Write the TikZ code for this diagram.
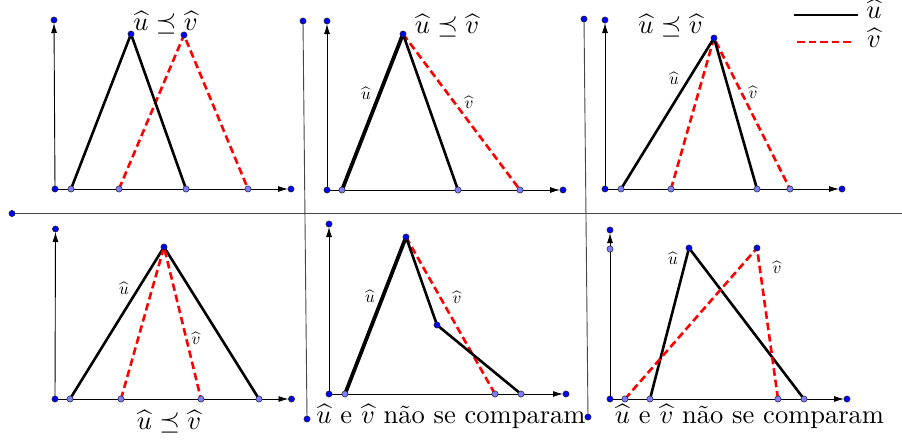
\documentclass[tikz,border=0pt]{standalone}
\usetikzlibrary{arrows.meta}
\definecolor{dotdark}{RGB}{0,0,255}
\definecolor{dotlight}{RGB}{125,125,255}
\definecolor{sepgray}{RGB}{70,70,70}
\begin{document}
\begin{tikzpicture}[x=1pt,y=-1pt,
  dot/.style={circle, draw=black!85, fill=dotdark, inner sep=0pt, minimum size=6.2pt, line width=0.5pt},
  ldot/.style={dot, fill=dotlight},
  ufn/.style={line width=2.6pt, black, line join=round},
  ufnthick/.style={line width=3.8pt, black},
  vfn/.style={line width=2.6pt, red, dash pattern=on 7.5pt off 4pt},
  axisline/.style={line width=0.9pt, black, -{Latex[length=10pt,width=6pt]}, shorten >=3pt},
  sepline/.style={line width=0.9pt, sepgray},
  big/.style={scale=2.65, transform shape, inner sep=0pt},
  small/.style={scale=1.7, transform shape, inner sep=0pt}]
\useasboundingbox (0,0) rectangle (902,442);

% ---------- separators ----------
\coordinate (Sh1) at (12,213.5);
\coordinate (Sh2) at (902,213.5);
\coordinate (Sa1) at (303,21);
\coordinate (Sa2) at (307,419);
\coordinate (Sb1) at (584,19);
\coordinate (Sb2) at (588,417);
\draw[sepline] (Sh1) -- (Sh2);
\draw[sepline] (Sa1) -- (Sa2);
\draw[sepline] (Sb1) -- (Sb2);

% ---------- panel A (top left) ----------
\coordinate (Ao) at (55,189);
\coordinate (Ay) at (54,20);
\coordinate (Ax) at (291,189);
\coordinate (Au1) at (71,189);
\coordinate (Aup) at (131,34);
\coordinate (Au2) at (186,189);
\coordinate (Av1) at (119,189);
\coordinate (Avp) at (184,35);
\coordinate (Av2) at (248,189);
\draw[axisline] (Ao) -- (Ay);
\draw[axisline] (Ao) -- (Ax);
\draw[vfn] (Av1) -- (Avp) -- (Av2);
\draw[ufn] (Au1) -- (Aup) -- (Au2);

% ---------- panel B (top middle) ----------
\coordinate (Bo) at (327,190);
\coordinate (By) at (327,21);
\coordinate (Bx) at (563,190);
\coordinate (Bu1) at (342,190);
\coordinate (Bp) at (403,34);
\coordinate (Bu2) at (458,190);
\coordinate (Bv2) at (520,190);
\draw[axisline] (Bo) -- (By);
\draw[axisline] (Bo) -- (Bx);
\draw[vfn] (Bp) -- (Bv2);
\draw[ufnthick] (Bu1) -- (Bp);
\draw[ufn] (Bp) -- (Bu2);

% ---------- panel C (top right) ----------
\coordinate (Co) at (605,189);
\coordinate (Cy) at (605,20);
\coordinate (Cx) at (842,189);
\coordinate (Cu1) at (621,189);
\coordinate (Cp) at (714,38);
\coordinate (Cu2) at (757,189);
\coordinate (Cv1) at (671,189);
\coordinate (Cv2) at (790,189);
\draw[axisline] (Co) -- (Cy);
\draw[axisline] (Co) -- (Cx);
\draw[vfn] (Cv1) -- (Cp) -- (Cv2);
\draw[ufn] (Cu1) -- (Cp) -- (Cu2);

% ---------- panel D (bottom left) ----------
\coordinate (Do) at (55,399);
\coordinate (Dy) at (55.5,229);
\coordinate (Dx) at (291.5,399);
\coordinate (Du1) at (70,399);
\coordinate (Dp) at (164,247);
\coordinate (Du2) at (259,399);
\coordinate (Dv1) at (121,399);
\coordinate (Dv2) at (201,399);
\draw[axisline] (Do) -- (Dy);
\draw[axisline] (Do) -- (Dx);
\draw[ufn] (Du1) -- (Dp) -- (Du2);
\draw[vfn] (Dv1) -- (Dp) -- (Dv2);

% ---------- panel E (bottom middle) ----------
\coordinate (Eo) at (329,394);
\coordinate (Ey) at (329,224);
\coordinate (Ex) at (566,394);
\coordinate (Eu1) at (345,394);
\coordinate (Ep) at (406,237);
\coordinate (Ek) at (437,325);
\coordinate (Eu2) at (521,394);
\coordinate (Ev2) at (495,394);
\draw[axisline] (Eo) -- (Ey);
\draw[axisline] (Eo) -- (Ex);
\draw[vfn] (Ep) -- (Ev2);
\draw[ufnthick] (Eu1) -- (Ep);
\draw[ufn] (Ep) -- (Ek) -- (Eu2);

% ---------- panel F (bottom right) ----------
\coordinate (Fo) at (610,399);
\coordinate (Fy) at (610,230);
\coordinate (Fl) at (610,249);
\coordinate (Fx) at (847,399);
\coordinate (Fu1) at (650,399);
\coordinate (Fup) at (689,248);
\coordinate (Fu2) at (804,399);
\coordinate (Fv1) at (625,399);
\coordinate (Fvp) at (757,248);
\coordinate (Fv2) at (778,399);
\draw[axisline] (Fo) -- (Fy);
\draw[axisline] (Fo) -- (Fx);
\draw[ufn] (Fu1) -- (Fup) -- (Fu2);
\draw[vfn] (Fv1) -- (Fvp) -- (Fv2);

% ---------- legend ----------
\coordinate (Lu1) at (794,15);
\coordinate (Lu2) at (858,15);
\coordinate (Lv1) at (797,42);
\coordinate (Lv2) at (854,42);
\draw[ufn] (Lu1) -- (Lu2);
\draw[vfn] (Lv1) -- (Lv2);
\node[big, anchor=base] (legu) at (874,18) {$\widehat{u}$};
\node[big, anchor=base] (legv) at (874,47) {$\widehat{v}$};

% ---------- dots ----------
\foreach \p in {Sh1,Sa1,Sa2,Sb1,Sb2,
  Ao,Ay,Ax,Aup,Avp, Bo,By,Bx,Bp, Co,Cy,Cx,Cp,
  Do,Dy,Dx,Dp, Eo,Ey,Ex,Ep,Ek, Fo,Fy,Fx,Fup,Fvp}
  \node[dot] (d-\p) at (\p) {};
\foreach \p in {Au1,Au2,Av1,Av2, Bu1,Bu2,Bv2, Cu1,Cu2,Cv1,Cv2,
  Du1,Du2,Dv1,Dv2, Eu1,Eu2,Ev2, Fl,Fu1,Fu2,Fv1,Fv2}
  \node[ldot] (d-\p) at (\p) {};

% ---------- titles ----------
\node[big, anchor=base] (tA) at (165.5,30) {$\widehat{u}\preceq\widehat{v}$};
\node[big, anchor=base] (tB) at (447,33) {$\widehat{u}\preceq\widehat{v}$};
\node[big, anchor=base] (tC) at (670.5,33) {$\widehat{u}\preceq\widehat{v}$};
\node[big, anchor=base] (tD) at (169,429) {$\widehat{u}\preceq\widehat{v}$};
\node[big, anchor=base] (tE) at (451,423) {$\widehat{u}$ e $\widehat{v}$ n\~ao se comparam};
\node[big, anchor=base] (tF) at (749.5,423) {$\widehat{u}$ e $\widehat{v}$ n\~ao se comparam};

% ---------- small labels ----------
\node[small] (lBu) at (366,93) {$\widehat{u}$};
\node[small] (lBv) at (469,102) {$\widehat{v}$};
\node[small] (lCu) at (674,78) {$\widehat{u}$};
\node[small] (lCv) at (753,92) {$\widehat{v}$};
\node[small] (lDu) at (124,288) {$\widehat{u}$};
\node[small] (lDv) at (196,338) {$\widehat{v}$};
\node[small] (lEu) at (370,296) {$\widehat{u}$};
\node[small] (lEv) at (457,297) {$\widehat{v}$};
\node[small] (lFu) at (673,258) {$\widehat{u}$};
\node[small] (lFv) at (777,267) {$\widehat{v}$};
\end{tikzpicture}
\end{document}
